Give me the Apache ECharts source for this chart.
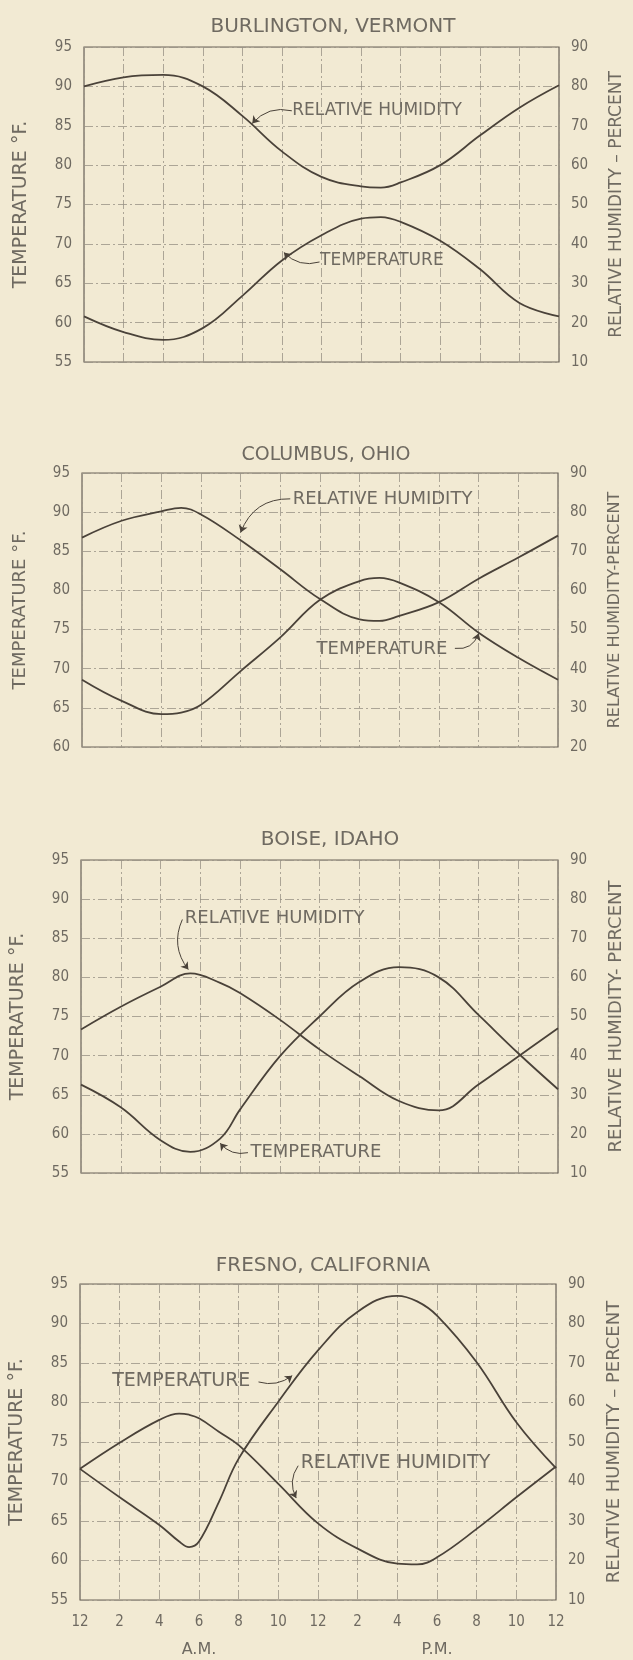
<!DOCTYPE html>
<html>
<head>
<meta charset="utf-8">
<script src="https://cdn.jsdelivr.net/npm/echarts@6.0.0/dist/echarts.min.js"></script>
<style>
html, body { margin: 0; padding: 0; background: #f2ead3; }
#main { width: 633px; height: 1660px; }
</style>
</head>
<body>
<div id="main"></div>
<script>
// hours after midnight
const burlingtonHours = [0, 2, 4, 6, 8, 10, 12, 14, 15, 16, 18, 20, 22, 24];
const burlingtonTemp  = [60.8, 58.8, 57.8, 59.3, 63.4, 67.9, 71.1, 73.2, 73.4, 72.8, 70.4, 66.8, 62.5, 60.8];
const burlingtonRH    = [80, 82.3, 82.9, 80, 72.5, 63.5, 57, 54.6, 54.3, 55.6, 60, 67.5, 74.6, 80.3];

const columbusHours = [0, 2, 4, 5, 6, 8, 10, 12, 14, 15, 16, 18, 20, 22, 24];
const columbusTemp  = [68.6, 65.9, 64.2, 64.4, 65.4, 69.7, 74.0, 78.8, 81.2, 81.6, 81.0, 78.5, 74.6, 71.4, 68.6];
const columbusRH    = [73.5, 77.8, 80.2, 81.1, 79.4, 72.8, 65.4, 57.8, 52.6, 52.2, 53.5, 57, 63, 68.4, 74];

const boiseHours = [0, 2, 4, 5.5, 7, 8, 10, 12, 14, 16, 18, 20, 22, 24];
const boiseTemp  = [66.3, 63.4, 59.2, 57.7, 59.4, 63.1, 69.9, 75.0, 79.4, 81.3, 80.0, 75.2, 70.3, 65.7];
const boiseRH    = [46.7, 52.5, 57.6, 61.0, 58.6, 56, 49.2, 41.6, 34.8, 28.4, 26.0, 32.6, 39.8, 47];

const fresnoHours = [0, 2, 4, 5, 5.5, 6, 7, 8, 10, 12, 14, 16, 17, 18, 20, 22, 24];
const fresnoTemp  = [71.6, 68.0, 64.5, 62.4, 61.7, 62.4, 67.4, 72.9, 80.1, 86.6, 91.5, 93.5, 92.8, 91.0, 85.1, 77.5, 71.7];
const fresnoRH    = [43.2, 49.8, 55.6, 57.2, 56.9, 56, 52.6, 49.2, 39.4, 29.4, 23, 19.2, 19, 20.8, 28, 36, 43.8];

const hourLabels = ['12', '2', '4', '6', '8', '10', '12', '2', '4', '6', '8', '10', '12'];
const dayHalves = ['A.M.', 'P.M.'];

const FONT = "'DejaVu Sans', sans-serif";
const TICKFONT = "'DejaVu Sans Condensed', 'DejaVu Sans', sans-serif";
const INK = '#4a4239';
const TXT = '#6f6a61';
const GRIDC = '#999386';

const panels = [
  {
    title: 'BURLINGTON, VERMONT', titleX: 328, titleTop: 12, titleSize: 20,
    grid: { left: 84, right: 73, top: 47, height: 315 },
    tMin: 55, tMax: 95, rMin: 10, rMax: 90,
    tName: 'TEMPERATURE °F.', tSize: 19,
    rName: 'RELATIVE HUMIDITY – PERCENT', rSize: 17,
    noteSize: 17,
    hours: burlingtonHours, temp: burlingtonTemp, rh: burlingtonRH,
    labels: [
      { text: 'RELATIVE HUMIDITY', at: [10.5, 86.9] },
      { text: 'TEMPERATURE', at: [11.9, 67.9] }
    ],
    leaders: [
      { from: [10.5, 86.9], to: [8.5, 85.3], c: -0.3 },
      { from: [11.9, 67.7], to: [10.1, 68.9], c: 0.3 }
    ]
  },
  {
    title: 'COLUMBUS, OHIO', titleX: 321, titleTop: 441, titleSize: 19,
    grid: { left: 82, right: 75, top: 473, height: 274 },
    tMin: 60, tMax: 95, rMin: 20, rMax: 90,
    tName: 'TEMPERATURE °F.', tSize: 18,
    rName: 'RELATIVE HUMIDITY-PERCENT', rSize: 16,
    noteSize: 18,
    hours: columbusHours, temp: columbusTemp, rh: columbusRH,
    labels: [
      { text: 'RELATIVE HUMIDITY', at: [10.6, 91.6] },
      { text: 'TEMPERATURE', at: [11.8, 72.5] }
    ],
    leaders: [
      { from: [10.5, 91.7], to: [8.0, 87.4], c: -0.35 },
      { from: [18.8, 72.6], to: [20.0, 74.5], c: -0.4 }
    ]
  },
  {
    title: 'BOISE, IDAHO', titleX: 325, titleTop: 825, titleSize: 20,
    grid: { left: 81, right: 75, top: 860, height: 313 },
    tMin: 55, tMax: 95, rMin: 10, rMax: 90,
    tName: 'TEMPERATURE °F.', tSize: 19,
    rName: 'RELATIVE HUMIDITY- PERCENT', rSize: 18,
    noteSize: 18,
    hours: boiseHours, temp: boiseTemp, rh: boiseRH,
    labels: [
      { text: 'RELATIVE HUMIDITY', at: [5.2, 87.5] },
      { text: 'TEMPERATURE', at: [8.5, 57.6] }
    ],
    leaders: [
      { from: [5.1, 87.4], to: [5.4, 81.0], c: -0.3 },
      { from: [8.4, 57.6], to: [7.0, 58.8], c: 0.3 }
    ]
  },
  {
    title: 'FRESNO, CALIFORNIA', titleX: 318, titleTop: 1251, titleSize: 20,
    grid: { left: 80, right: 77, top: 1284, height: 316 },
    tMin: 55, tMax: 95, rMin: 10, rMax: 90,
    tName: 'TEMPERATURE °F.', tSize: 19,
    rName: 'RELATIVE HUMIDITY – PERCENT', rSize: 18,
    noteSize: 19,
    hours: fresnoHours, temp: fresnoTemp, rh: fresnoRH,
    labels: [
      { text: 'TEMPERATURE', at: [1.6, 82.7] },
      { text: 'RELATIVE HUMIDITY', at: [11.1, 72.3] }
    ],
    leaders: [
      { from: [9.0, 82.6], to: [10.7, 83.4], c: -0.25 },
      { from: [11.0, 72.0], to: [10.9, 67.9], c: -0.3 }
    ]
  }
];

const splitStyle = { color: GRIDC, width: 0.8, type: [9, 3, 2, 3] };
const tickText = { color: TXT, fontFamily: TICKFONT, fontSize: 15 };

const option = {
  backgroundColor: '#f2ead3',
  animation: false,
  title: [], grid: [], xAxis: [], yAxis: [], series: []
};

panels.forEach((p, i) => {
  const last = i === panels.length - 1;
  option.title.push({
    text: p.title, left: p.titleX, top: p.titleTop, textAlign: 'center',
    textStyle: { color: TXT, fontFamily: FONT, fontSize: p.titleSize, fontWeight: 'normal' }
  });
  option.grid.push(Object.assign({ show: true, borderColor: '#6a6358', borderWidth: 1.2 }, p.grid));
  option.xAxis.push({
    gridIndex: i, type: 'value', min: 0, max: 24, interval: 2,
    axisLine: { show: false }, axisTick: { show: false },
    axisLabel: Object.assign({ show: last, margin: 15, formatter: v => hourLabels[v / 2] }, tickText),
    splitLine: { show: true, lineStyle: splitStyle }
  });
  option.yAxis.push({
    gridIndex: i, type: 'value', position: 'left', min: p.tMin, max: p.tMax, interval: 5,
    name: p.tName, nameLocation: 'middle', nameRotate: 90, nameGap: 53,
    nameTextStyle: { color: TXT, fontFamily: FONT, fontSize: p.tSize },
    axisLine: { show: false }, axisTick: { show: false },
    axisLabel: Object.assign({ margin: 12 }, tickText),
    splitLine: { show: true, lineStyle: splitStyle }
  });
  option.yAxis.push({
    gridIndex: i, type: 'value', position: 'right', min: p.rMin, max: p.rMax, interval: 10,
    name: p.rName, nameLocation: 'middle', nameRotate: 90, nameGap: 49,
    nameTextStyle: { color: TXT, fontFamily: FONT, fontSize: p.rSize },
    axisLine: { show: false }, axisTick: { show: false },
    axisLabel: Object.assign({ margin: 12 }, tickText),
    splitLine: { show: false }
  });

  const line = { color: INK, width: 1.8 };
  option.series.push({
    name: p.title + ' temperature', type: 'line', xAxisIndex: i, yAxisIndex: 2 * i,
    data: p.hours.map((h, k) => [h, p.temp[k]]),
    smooth: 0.4, showSymbol: false, lineStyle: line, silent: true,
    markPoint: {
      silent: true,
      data: p.labels.map(l => ({
        coord: l.at, symbol: 'rect', symbolSize: 1, itemStyle: { color: 'rgba(0,0,0,0)' },
        label: { show: true, formatter: l.text, position: 'right', distance: 0,
                 color: TXT, fontFamily: FONT, fontSize: p.noteSize }
      }))
    }
  });
  option.series.push({
    name: p.title + ' relative humidity', type: 'line', xAxisIndex: i, yAxisIndex: 2 * i + 1,
    data: p.hours.map((h, k) => [h, p.rh[k]]),
    smooth: 0.4, showSymbol: false, lineStyle: line, silent: true
  });
  // curved leaders from the notes to the curves
  option.series.push({
    type: 'lines', coordinateSystem: 'cartesian2d', xAxisIndex: i, yAxisIndex: 2 * i,
    polyline: false, silent: true, symbol: ['none', 'arrow'], symbolSize: 7,
    lineStyle: { color: INK, width: 1, opacity: 1 },
    data: p.leaders.map(l => ({ coords: [l.from, l.to], lineStyle: { curveness: l.c } }))
  });
});

// A.M. / P.M. under the last plate
option.xAxis.push({
  gridIndex: 3, type: 'category', data: dayHalves, position: 'bottom', offset: 30,
  axisLine: { show: false }, axisTick: { show: false }, splitLine: { show: false },
  axisLabel: { margin: 12, color: TXT, fontFamily: FONT, fontSize: 16 }
});

const chart = echarts.init(document.getElementById('main'));
chart.setOption(option);
</script>
</body>
</html>
